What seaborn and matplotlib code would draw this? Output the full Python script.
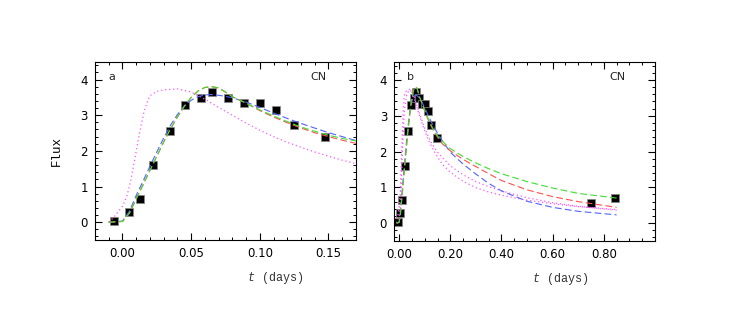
import numpy as np
import pandas as pd
import matplotlib
matplotlib.use("Agg")
import matplotlib.pyplot as plt
from matplotlib.ticker import MultipleLocator, FormatStrFormatter
import seaborn as sns

# observed points (t in days, flux)
t_obs = [-0.006, 0.005, 0.013, 0.0225, 0.0343, 0.0455, 0.0575, 0.065, 0.077,
         0.0886, 0.100, 0.1116, 0.1249, 0.1478, 0.751, 0.845]
f_obs = [0.03, 0.29, 0.64, 1.59, 2.57, 3.30, 3.49, 3.66, 3.49,
         3.33, 3.33, 3.14, 2.73, 2.39, 0.55, 0.69]

# model curves
t_fit = [-0.010, 0.0, 0.005, 0.010, 0.015, 0.020, 0.025, 0.030, 0.035, 0.040,
         0.045, 0.050, 0.055, 0.060, 0.065, 0.070, 0.075, 0.080, 0.090, 0.100,
         0.110, 0.120, 0.130, 0.140, 0.150, 0.160, 0.170, 0.20, 0.25, 0.30,
         0.35, 0.40, 0.50, 0.60, 0.70, 0.85]
f_green = [0.0, 0.02, 0.25, 0.65, 1.05, 1.45, 1.85, 2.25, 2.62, 2.95,
           3.25, 3.50, 3.68, 3.78, 3.80, 3.77, 3.65, 3.52, 3.34, 3.15,
           2.98, 2.82, 2.67, 2.55, 2.44, 2.35, 2.28, 2.08, 1.86, 1.68,
           1.52, 1.38, 1.16, 0.98, 0.83, 0.70]
f_red = [0.0, 0.02, 0.25, 0.65, 1.05, 1.45, 1.85, 2.25, 2.62, 2.95,
         3.25, 3.50, 3.68, 3.78, 3.80, 3.77, 3.65, 3.52, 3.34, 3.13,
         2.95, 2.79, 2.64, 2.51, 2.40, 2.30, 2.21, 2.02, 1.78, 1.58,
         1.38, 1.19, 0.93, 0.74, 0.60, 0.44]
f_blue = [0.0, 0.03, 0.30, 0.75, 1.15, 1.57, 1.97, 2.36, 2.72, 3.02,
          3.26, 3.42, 3.52, 3.57, 3.58, 3.56, 3.53, 3.49, 3.37, 3.22,
          3.06, 2.91, 2.77, 2.64, 2.51, 2.40, 2.29, 1.98, 1.65, 1.37,
          1.11, 0.90, 0.61, 0.44, 0.33, 0.23]

t_pink = [-0.010, -0.006, -0.003, 0.0, 0.003, 0.006, 0.009, 0.0125, 0.016, 0.020,
          0.025, 0.030, 0.040, 0.050, 0.060, 0.070, 0.080, 0.090, 0.100, 0.110,
          0.120, 0.130, 0.140, 0.150, 0.160, 0.170, 0.20, 0.25, 0.30, 0.35,
          0.40, 0.50, 0.60, 0.70, 0.85]
f_pink = [0.0, 0.15, 0.30, 0.45, 0.70, 1.15, 1.78, 2.52, 3.15, 3.55,
          3.67, 3.71, 3.74, 3.65, 3.45, 3.22, 3.00, 2.78, 2.58, 2.40,
          2.24, 2.10, 1.97, 1.85, 1.74, 1.64, 1.42, 1.17, 0.99, 0.87,
          0.78, 0.64, 0.54, 0.46, 0.38]

t_pink2 = [-0.010, 0.0, 0.005, 0.010, 0.015, 0.020, 0.030, 0.040, 0.050, 0.060,
           0.080, 0.100, 0.120, 0.150, 0.20, 0.25, 0.30, 0.35, 0.40, 0.50,
           0.60, 0.70, 0.85]
f_pink2 = [0.0, 0.10, 0.50, 1.40, 2.40, 3.10, 3.60, 3.72, 3.68, 3.50,
           3.05, 2.65, 2.32, 1.98, 1.60, 1.35, 1.16, 1.02, 0.90, 0.71,
           0.57, 0.47, 0.36]

sns.set_style("ticks")
plt.rcParams['font.family'] = ['DejaVu Sans']
plt.rcParams['mathtext.fontset'] = 'custom'
plt.rcParams['mathtext.it'] = 'Liberation Mono:italic'
plt.rcParams['mathtext.rm'] = 'Liberation Mono'

obs = pd.DataFrame({"t": t_obs, "flux": f_obs})
fit = pd.DataFrame({"t": t_fit, "green": f_green, "red": f_red, "blue": f_blue})

fig = plt.figure(figsize=(7.29, 3.35), dpi=100)
ax1 = fig.add_axes([0.1303, 0.2836, 0.358, 0.532])
ax2 = fig.add_axes([0.5405, 0.2806, 0.358, 0.534])

mono = 'Liberation Mono'

for ax, panel in [(ax1, "a"), (ax2, "b")]:
    sns.scatterplot(data=obs, x="t", y="flux", marker="s", s=28, color="black",
                    edgecolor="#888888", linewidth=0.5, ax=ax, zorder=2)
    sns.lineplot(x=t_pink, y=f_pink, ax=ax, color="#ff55ff", lw=0.9,
                 linestyle=(0, (1, 2.2)), sort=False, zorder=3)
    if panel == "b":
        sns.lineplot(x=t_pink2, y=f_pink2, ax=ax, color="#ff55ff", lw=0.9,
                     linestyle=(0, (1, 2.2)), sort=False, zorder=3)
    sns.lineplot(data=fit, x="t", y="blue", ax=ax, color="#5064ff", lw=0.8,
                 linestyle=(0, (6, 3)), sort=False, zorder=4)
    sns.lineplot(data=fit, x="t", y="red", ax=ax, color="#ff5050", lw=0.8,
                 linestyle=(0, (6, 3)), sort=False, zorder=4)
    sns.lineplot(data=fit, x="t", y="green", ax=ax, color="#40dd30", lw=0.8,
                 linestyle=(0, (6, 3)), sort=False, zorder=4)

    ax.set_ylim(-0.5, 4.5)
    ax.yaxis.set_major_locator(MultipleLocator(1))
    ax.yaxis.set_minor_locator(MultipleLocator(0.2))
    ax.tick_params(which="both", direction="in", top=True, right=True,
                   labelsize=8.5, pad=5, colors="black")
    ax.tick_params(which="major", length=5, width=0.8)
    ax.tick_params(which="minor", length=2.5, width=0.7)
    for sp in ax.spines.values():
        sp.set_linewidth(0.8)
        sp.set_color("black")
    ax.set_xlabel(r"$t$ (days)", fontsize=8.5, family=mono, color="#333333")
    ax.set_ylabel("")
    ax.text(0.064, 0.915, panel, transform=ax.transAxes, fontsize=8,
            ha="center", va="center")
    ax.text(0.855, 0.915, "CN", transform=ax.transAxes, fontsize=8,
            ha="center", va="center")

ax1.set_xlim(-0.02, 0.17)
ax1.xaxis.set_major_locator(MultipleLocator(0.05))
ax1.xaxis.set_minor_locator(MultipleLocator(0.01))
ax1.xaxis.set_major_formatter(FormatStrFormatter("%.2f"))
ax1.xaxis.set_label_coords(0.69, -0.17)
ax1.set_ylabel("Flux", fontsize=9, family=mono, color="black")
ax1.yaxis.set_label_coords(-0.123, 0.5)

ax2.set_xlim(-0.02, 1.0)
ax2.xaxis.set_major_locator(MultipleLocator(0.2))
ax2.xaxis.set_minor_locator(MultipleLocator(0.05))
ax2.xaxis.set_major_formatter(FormatStrFormatter("%.2f"))
ax2.xaxis.set_label_coords(0.635, -0.17)
ax2.set_xticks([0.0, 0.2, 0.4, 0.6, 0.8])

fig.savefig("out.png", dpi=100)
